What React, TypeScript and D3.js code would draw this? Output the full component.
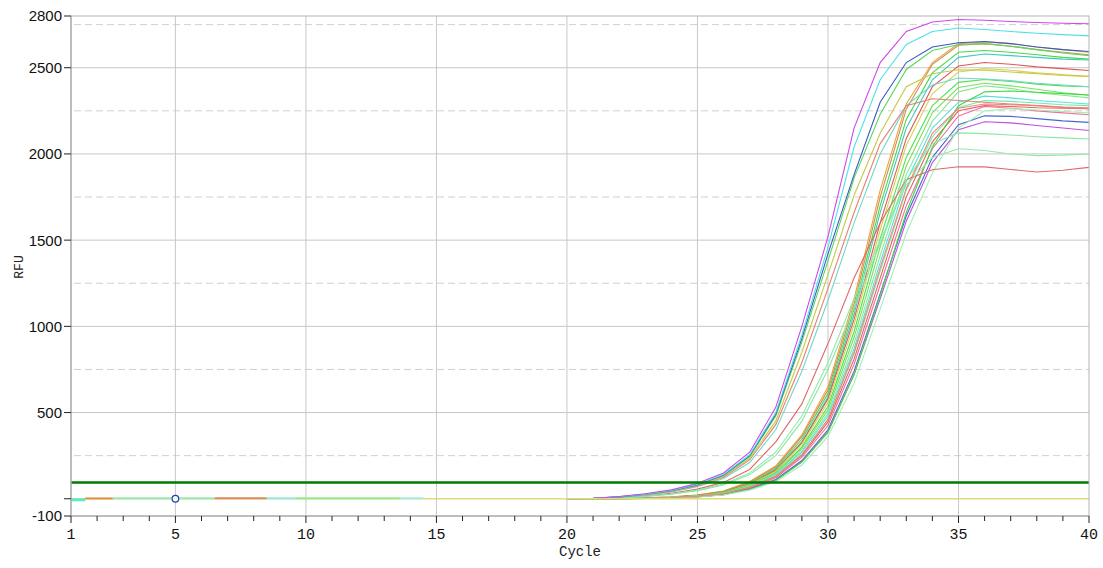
import React from 'react';
import * as d3 from 'd3';

// cycles for the amplification curves (before cycle 20 they sit on the zero line)
const curveCycles = [20, 21, 22, 23, 24, 25, 26, 27, 28, 29, 30, 31, 32, 33, 34, 35, 36, 37, 38, 39, 40];

// early group
const a1 = [0, 2, 13, 29, 52, 90, 150, 270, 530, 1000, 1520, 2150, 2530, 2710, 2765, 2780, 2775, 2768, 2762, 2758, 2755];
const a2 = [0, 2, 12, 27, 48, 84, 140, 255, 500, 950, 1460, 2040, 2430, 2635, 2710, 2730, 2722, 2710, 2700, 2692, 2685];
const a3 = [0, 2, 11, 26, 47, 82, 138, 250, 490, 930, 1420, 1880, 2300, 2530, 2620, 2645, 2652, 2640, 2620, 2605, 2594];
const a4 = [0, 2, 11, 25, 45, 80, 135, 245, 480, 910, 1380, 1860, 2230, 2490, 2600, 2635, 2640, 2625, 2605, 2585, 2570];
const a5 = [0, 1, 10, 24, 44, 78, 130, 235, 450, 850, 1300, 1760, 2120, 2390, 2465, 2488, 2485, 2475, 2465, 2455, 2450];
const a6 = [0, 1, 9, 22, 42, 74, 125, 225, 430, 790, 1220, 1660, 2060, 2280, 2320, 2310, 2300, 2290, 2280, 2270, 2262];
const a7 = [0, 1, 9, 21, 40, 70, 118, 210, 400, 740, 1150, 1600, 2000, 2280, 2400, 2440, 2435, 2425, 2410, 2400, 2390];

// middle curves
const m1 = [0, 0, 6, 16, 32, 56, 95, 170, 330, 550, 900, 1280, 1600, 1850, 1908, 1926, 1925, 1910, 1895, 1905, 1922];
const m2 = [0, 0, 5, 14, 28, 50, 85, 150, 270, 480, 790, 1160, 1500, 1820, 1980, 2030, 2020, 2000, 1990, 1993, 2000];
const m3 = [0, 0, 5, 13, 26, 47, 80, 140, 250, 450, 750, 1110, 1480, 1850, 2060, 2122, 2118, 2110, 2100, 2093, 2087];

// late group
const b1 = [0, 0, 2, 5, 11, 22, 45, 100, 190, 370, 650, 1160, 1790, 2290, 2530, 2640, 2650, 2640, 2620, 2605, 2590];
const b2 = [0, 0, 2, 5, 10, 21, 43, 96, 184, 360, 630, 1130, 1750, 2260, 2520, 2630, 2640, 2625, 2605, 2590, 2575];
const b3 = [0, 0, 1, 4, 9, 19, 40, 90, 175, 345, 610, 1100, 1700, 2200, 2470, 2590, 2600, 2590, 2575, 2560, 2550];
const b4 = [0, 0, 1, 4, 9, 18, 38, 86, 168, 330, 590, 1070, 1660, 2150, 2430, 2560, 2580, 2570, 2560, 2550, 2545];
const b5 = [0, 0, 1, 4, 9, 18, 38, 85, 165, 325, 580, 1040, 1600, 2090, 2390, 2510, 2530, 2520, 2505, 2495, 2484];
const b6 = [0, 0, 1, 4, 8, 17, 36, 82, 160, 315, 560, 1010, 1560, 2050, 2350, 2475, 2495, 2485, 2470, 2460, 2450];
const b7 = [0, 0, 1, 3, 8, 16, 34, 78, 152, 300, 535, 970, 1510, 1980, 2280, 2415, 2432, 2420, 2405, 2395, 2390];
const b8 = [0, 0, 1, 3, 7, 15, 32, 74, 146, 290, 515, 935, 1460, 1930, 2240, 2385, 2410, 2395, 2375, 2355, 2340];
const b9 = [0, 0, 1, 3, 7, 15, 31, 72, 142, 278, 495, 900, 1410, 1880, 2190, 2360, 2395, 2380, 2355, 2340, 2325];
const b10 = [0, 0, 1, 3, 7, 14, 30, 70, 138, 270, 480, 870, 1370, 1840, 2150, 2300, 2335, 2325, 2310, 2300, 2290];
const b11 = [0, 0, 1, 3, 6, 14, 29, 67, 132, 258, 460, 840, 1320, 1790, 2100, 2270, 2310, 2305, 2295, 2285, 2280];
const b12 = [0, 0, 1, 3, 6, 13, 28, 65, 128, 250, 445, 810, 1280, 1750, 2070, 2250, 2280, 2275, 2268, 2265, 2262];
const b13 = [0, 0, 1, 3, 6, 13, 27, 62, 122, 240, 425, 780, 1240, 1700, 2030, 2220, 2275, 2265, 2250, 2238, 2227];
const b14 = [0, 0, 1, 2, 5, 12, 25, 58, 112, 222, 400, 740, 1190, 1640, 1980, 2170, 2221, 2218, 2205, 2192, 2183];
const b15 = [0, 0, 1, 2, 5, 12, 24, 56, 108, 215, 390, 720, 1160, 1610, 1950, 2140, 2187, 2180, 2165, 2150, 2136];
const b16 = [0, 0, 1, 2, 5, 11, 23, 54, 106, 212, 385, 720, 1180, 1660, 2040, 2280, 2360, 2365, 2358, 2350, 2342];
const b17 = [0, 0, 1, 2, 5, 11, 22, 50, 98, 196, 360, 670, 1100, 1540, 1890, 2150, 2250, 2262, 2255, 2246, 2238];
const b18 = [0, 0, 1, 3, 6, 14, 29, 66, 130, 255, 460, 850, 1340, 1800, 2120, 2265, 2290, 2285, 2280, 2272, 2268];

const curves = [
  { values: b1, color: '#f0a040' },
  { values: b2, color: '#c89050' },
  { values: b3, color: '#48d848' },
  { values: b4, color: '#40c8c0' },
  { values: b5, color: '#e05858' },
  { values: b6, color: '#d4d450' },
  { values: b7, color: '#50e050' },
  { values: b8, color: '#78e060' },
  { values: b9, color: '#88e898' },
  { values: b10, color: '#58e0e0' },
  { values: b11, color: '#70e8b0' },
  { values: b12, color: '#e86060' },
  { values: b13, color: '#f070a0' },
  { values: b14, color: '#4868d0' },
  { values: b15, color: '#c050e0' },
  { values: b16, color: '#40d840' },
  { values: b17, color: '#a0f0b0' },
  { values: b18, color: '#f08878' },
  { values: m1, color: '#e06868' },
  { values: m2, color: '#90eaa8' },
  { values: m3, color: '#88e8a0' },
  { values: a7, color: '#70d8c8' },
  { values: a6, color: '#e88070' },
  { values: a5, color: '#c8c848' },
  { values: a4, color: '#58d858' },
  { values: a3, color: '#3858c8' },
  { values: a2, color: '#50e0e8' },
  { values: a1, color: '#d048e8' },
];

// short coloured pieces of curves visible on the zero line, early cycles
const baselineFrom = [1, 1.55, 2.6, 6.5, 8.5, 9.6, 13.6];
const baselineTo = [1.55, 2.6, 6.5, 8.5, 9.6, 13.6, 14.5];
const baselineValue = [-6, 2, 3, 3, 3, 3, 3];
const baselineColor = ['#60e8c8', '#e09040', '#98e8b8', '#e08860', '#98e8e8', '#98e890', '#a8e8e8'];

const threshold = 95;
const markerCycle = 5;
const markerValue = 0;

const yLabelTicks = [2800, 2500, 2000, 1500, 1000, 500, -100];
const yMarkTicks = [2800, 2500, 2000, 1500, 1000, 500, 0, -100];
const ySolidGrid = [2500, 2000, 1500, 1000, 500];
const yDashGrid = [2750, 2250, 1750, 1250, 750, 250];
const xLabelTicks = [1, 5, 10, 15, 20, 25, 30, 35, 40];
const xGrid = [5, 10, 15, 20, 25, 30, 35];

const W = 1103;
const H = 568;
const left = 71, right = 1089, top = 16, bottom = 516;

export default function App() {
  const x = d3.scaleLinear().domain([1, 40]).range([left, right]);
  const y = d3.scaleLinear().domain([-100, 2800]).range([bottom, top]);

  const line = d3.line<number>()
    .x((_, i) => x(curveCycles[i]))
    .y(d => y(d));

  const minorTicks = x.ticks(39);

  return (
    <svg width={W} height={H} style={{ position: 'absolute', left: 0, top: 0, background: '#fff' }}>
      {/* grid */}
      {ySolidGrid.map(v => (
        <line key={'s' + v} x1={left} x2={right} y1={y(v)} y2={y(v)} stroke="#c8c8c8" strokeWidth={1} />
      ))}
      {yDashGrid.map(v => (
        <line key={'d' + v} x1={left + 3} x2={right} y1={y(v)} y2={y(v)} stroke="#d0d0d0" strokeWidth={1} strokeDasharray="7,4" />
      ))}
      {xGrid.map(c => (
        <line key={'g' + c} x1={x(c)} x2={x(c)} y1={top} y2={bottom} stroke="#c8c8c8" strokeWidth={1} />
      ))}

      {/* curves */}
      {curves.map((c, i) => (
        <path key={i} d={line(c.values) || ''} fill="none" stroke={c.color} strokeWidth={1.1} />
      ))}

      {/* zero line */}
      <line x1={x(1)} x2={x(40)} y1={y(0)} y2={y(0)} stroke="#dcdc78" strokeWidth={1.5} />

      {baselineFrom.map((f, i) => (
        <line key={'b' + i} x1={x(f)} x2={x(baselineTo[i])} y1={y(baselineValue[i])} y2={y(baselineValue[i])}
          stroke={baselineColor[i]} strokeWidth={i === 0 ? 3 : 2} />
      ))}

      {/* threshold */}
      <line x1={x(1)} x2={x(40)} y1={y(threshold)} y2={y(threshold)} stroke="#007a00" strokeWidth={2.5} />

      <circle cx={x(markerCycle)} cy={y(markerValue)} r={3.3} fill="#f4f8ff" stroke="#2040b0" strokeWidth={1.2} />

      {/* frame */}
      <rect x={left} y={top} width={right - left} height={bottom - top} fill="none" stroke="#b4b4b4" strokeWidth={1} />
      <line x1={left} x2={right} y1={bottom} y2={bottom} stroke="#a0a0a0" strokeWidth={1} />
      <line x1={left} x2={left} y1={top} y2={bottom} stroke="#a0a0a0" strokeWidth={1} />

      {/* y axis */}
      {yMarkTicks.map(v => (
        <line key={'yt' + v} x1={left - 7} x2={left} y1={y(v)} y2={y(v)} stroke="#222" strokeWidth={1} />
      ))}
      {yLabelTicks.map(v => (
        <text key={'yl' + v} x={left - 9} y={y(v)} dy="0.36em" textAnchor="end"
          fontFamily="'Liberation Sans', Arial, sans-serif" fontSize={15} fill="#111">{v}</text>
      ))}
      <text transform={`translate(18,${(top + bottom) / 2 + 1}) rotate(-90)`} textAnchor="middle" dy="0.35em"
        fontFamily="'Liberation Mono', monospace" fontSize={13} fill="#222">RFU</text>

      {/* x axis */}
      {minorTicks.map(c => (
        <line key={'xt' + c} x1={x(c)} x2={x(c)} y1={bottom} y2={bottom + (xLabelTicks.includes(c) ? 7 : 5)} stroke="#222" strokeWidth={1} />
      ))}
      {xLabelTicks.map(c => (
        <text key={'xl' + c} x={x(c)} y={539} textAnchor="middle"
          fontFamily="'Liberation Mono', monospace" fontSize={15} fill="#111">{c}</text>
      ))}
      <text x={(left + right) / 2} y={556} textAnchor="middle"
        fontFamily="'Liberation Mono', monospace" fontSize={14} fill="#222">Cycle</text>
    </svg>
  );
}
